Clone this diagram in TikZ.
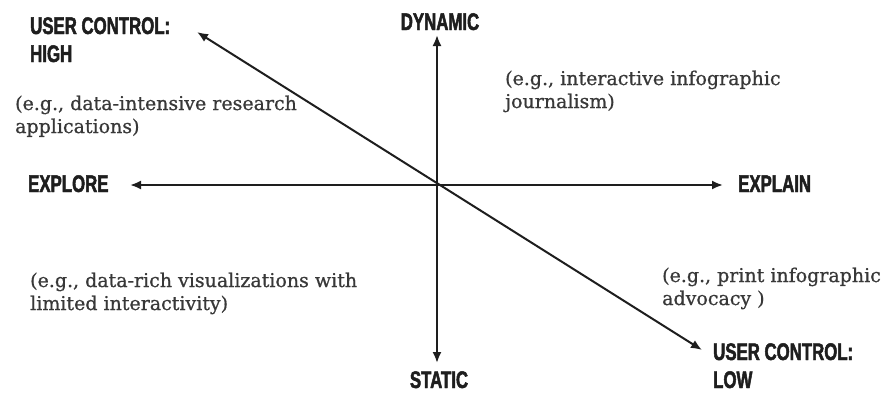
\documentclass[tikz,border=0pt]{standalone}
\usepackage{fontspec}
\usetikzlibrary{arrows.meta}

\newfontfamily\labelfam[FakeStretch=0.7,BoldFeatures={FakeBold=2}]{Liberation Sans}
\newfontfamily\notefam[FakeBold=0.8]{DejaVu Serif}
\definecolor{inkdark}{HTML}{1E1E1E}
\definecolor{inknote}{HTML}{383838}

\tikzset{
  axislabel/.style={font=\labelfam\bfseries\fontsize{24}{28}\selectfont, text=inkdark, inner sep=0pt, align=left},
  example/.style={font=\notefam\fontsize{19}{23}\selectfont, text=inknote, inner sep=0pt, align=left},
  axis/.style={line width=2pt, draw=inkdark, {Latex[length=11pt,width=9pt]}-{Latex[length=11pt,width=9pt]}},
}

\begin{document}
\begin{tikzpicture}[x=1pt,y=-1pt]
 \useasboundingbox (0,0) rectangle (888,394);
 % arrow tips
 \coordinate (o) at (437,185);
 \coordinate (exploreTip) at (130,185);
 \coordinate (explainTip) at (723,185);
 \coordinate (dynTip) at (437,35);
 \coordinate (statTip) at (437,363);
 \coordinate (highTip) at (197,32);
 \coordinate (lowTip) at (702,350);
 % axes
 \draw[axis] (exploreTip) -- (explainTip);
 \draw[axis] (statTip) -- (dynTip);
 \draw[axis] (lowTip) -- (highTip);
 % axis labels (base = last line)
 \node[axislabel,anchor=base] (dyn) at (440,30) {DYNAMIC};
 \node[axislabel,anchor=base] (stat) at (439,388) {STATIC};
 \node[axislabel,anchor=base west] (explore) at (28,192) {EXPLORE};
 \node[axislabel,anchor=base west] (explain) at (738,192) {EXPLAIN};
 \node[axislabel,anchor=base west] (high) at (30,62) {USER CONTROL:\\HIGH};
 \node[axislabel,anchor=base west] (low) at (713,388) {USER CONTROL:\\LOW};
 % examples
 \node[example,anchor=base west] (exHigh) at (15,133) {(e.g., data-intensive research\\applications)};
 \node[example,anchor=base west] (exDyn) at (505,108) {(e.g., interactive infographic\\journalism)};
 \node[example,anchor=base west] (exStat) at (30,310) {(e.g., data-rich visualizations with\\limited interactivity)};
 \node[example,anchor=base west] (exLow) at (662,305) {(e.g., print infographic\\advocacy )};
\end{tikzpicture}
\end{document}
